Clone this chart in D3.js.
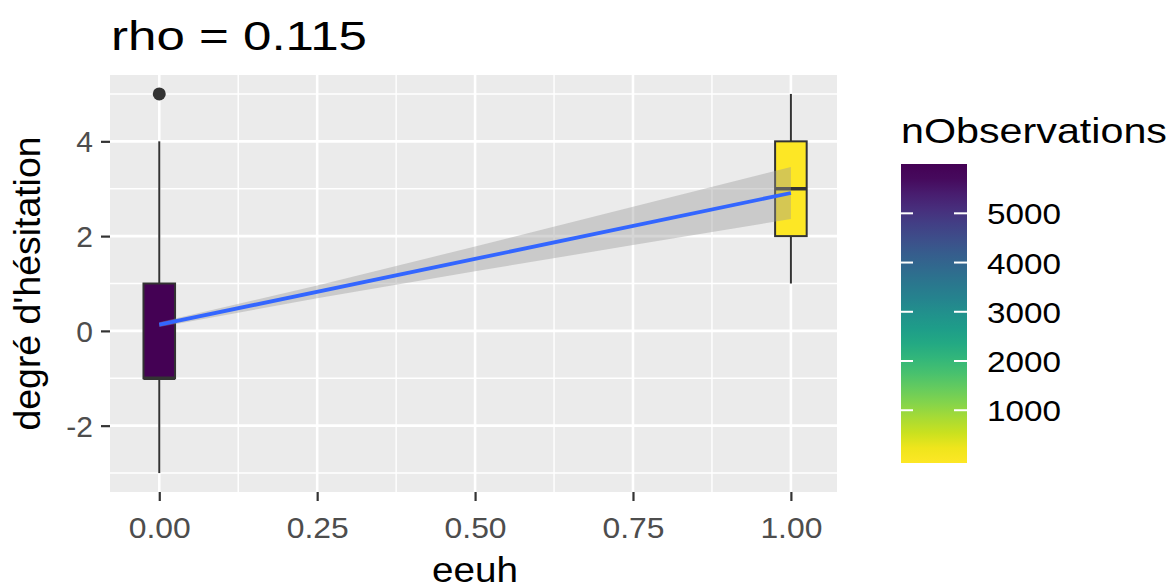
<!DOCTYPE html>
<html>
<head>
<meta charset="utf-8">
<script src="https://cdn.jsdelivr.net/npm/d3@7"></script>
<style>
  html, body { margin: 0; padding: 0; background: #ffffff; }
  svg { display: block; }
  text { font-family: "Liberation Sans", Arial, sans-serif; }
</style>
</head>
<body>
<div id="chart"></div>
<script>
// Hesitation score by eeuh group: boxplots filled by observation count,
// with a linear fit and its confidence band.
const groups      = [0, 1];
const groupN      = [5850, 80];            // observations per group
const boxQ1       = [-1, 2];
const boxMedian   = [-1, 3];
const boxQ3       = [1, 4];
const whiskerLow  = [-3, 1];
const whiskerHigh = [4, 5];
const outliers    = [{ x: 0, y: 5 }];

// linear fit and 95% band
const fitX   = [0, 1];
const fitY   = [0.13, 2.91];
const bandX  = [0, 0.25, 0.5, 0.75, 1];
const bandLo = [0.08, 0.69, 1.26, 1.81, 2.36];
const bandHi = [0.18, 0.96, 1.78, 2.62, 3.46];

const xTicks     = [0, 0.25, 0.5, 0.75, 1];
const xMinor     = [0.125, 0.375, 0.625, 0.875];
const yTicks     = [-2, 0, 2, 4];
const yMinor     = [-3, -1, 1, 3, 5];
const legendTicks = [1000, 2000, 3000, 4000, 5000];

const titleText  = "rho = 0.115";
const xTitle     = "eeuh";
const yTitle     = "degré d'hésitation";
const legendName = "nObservations";

const W = 1175, H = 588;
const panel = { left: 110, right: 837, top: 75, bottom: 492 };

const svg = d3.select("#chart").append("svg")
  .attr("width", W).attr("height", H);

const x = d3.scaleLinear().domain([-0.078, 1.073]).range([panel.left, panel.right]);
const y = d3.scaleLinear().domain([-3.4, 5.4]).range([panel.bottom, panel.top]);

const nExtent = d3.extent(groupN);
const color = d3.scaleSequential(t => d3.interpolateViridis(1 - t)).domain(nExtent);

// panel background
svg.append("rect")
  .attr("x", panel.left).attr("y", panel.top)
  .attr("width", panel.right - panel.left).attr("height", panel.bottom - panel.top)
  .attr("fill", "#EBEBEB");

const grid = svg.append("g");
grid.selectAll(".ymin").data(yMinor).join("line")
  .attr("x1", panel.left).attr("x2", panel.right)
  .attr("y1", d => y(d)).attr("y2", d => y(d))
  .attr("stroke", "#fff").attr("stroke-width", 1.4);
grid.selectAll(".xmin").data(xMinor).join("line")
  .attr("y1", panel.top).attr("y2", panel.bottom)
  .attr("x1", d => x(d)).attr("x2", d => x(d))
  .attr("stroke", "#fff").attr("stroke-width", 1.4);
grid.selectAll(".ymaj").data(yTicks).join("line")
  .attr("x1", panel.left).attr("x2", panel.right)
  .attr("y1", d => y(d)).attr("y2", d => y(d))
  .attr("stroke", "#fff").attr("stroke-width", 2.6);
grid.selectAll(".xmaj").data(xTicks).join("line")
  .attr("y1", panel.top).attr("y2", panel.bottom)
  .attr("x1", d => x(d)).attr("x2", d => x(d))
  .attr("stroke", "#fff").attr("stroke-width", 2.6);

// boxplots
const boxHalf = 0.025;
const boxes = svg.append("g");
groups.forEach((g, i) => {
  boxes.append("line")
    .attr("x1", x(g)).attr("x2", x(g))
    .attr("y1", y(boxQ3[i])).attr("y2", y(whiskerHigh[i]))
    .attr("stroke", "#333").attr("stroke-width", 2);
  boxes.append("line")
    .attr("x1", x(g)).attr("x2", x(g))
    .attr("y1", y(boxQ1[i])).attr("y2", y(whiskerLow[i]))
    .attr("stroke", "#333").attr("stroke-width", 2);
  boxes.append("rect")
    .attr("x", x(g - boxHalf)).attr("y", y(boxQ3[i]))
    .attr("width", x(g + boxHalf) - x(g - boxHalf))
    .attr("height", y(boxQ1[i]) - y(boxQ3[i]))
    .attr("fill", color(groupN[i]))
    .attr("stroke", "#333").attr("stroke-width", 2);
  boxes.append("line")
    .attr("x1", x(g - boxHalf)).attr("x2", x(g + boxHalf))
    .attr("y1", y(boxMedian[i])).attr("y2", y(boxMedian[i]))
    .attr("stroke", "#333").attr("stroke-width", 3.5);
});
boxes.selectAll(".out").data(outliers).join("circle")
  .attr("cx", d => x(d.x)).attr("cy", d => y(d.y)).attr("r", 6.5)
  .attr("fill", "#333");

// confidence band and fitted line
const band = bandX.map((v, i) => ({ x: v, lo: bandLo[i], hi: bandHi[i] }));
svg.append("path")
  .datum(band)
  .attr("d", d3.area().x(d => x(d.x)).y0(d => y(d.lo)).y1(d => y(d.hi)))
  .attr("fill", "#999999").attr("fill-opacity", 0.4);
svg.append("path")
  .datum(fitX.map((v, i) => ({ x: v, y: fitY[i] })))
  .attr("d", d3.line().x(d => x(d.x)).y(d => y(d.y)))
  .attr("fill", "none").attr("stroke", "#3366FF").attr("stroke-width", 3.8);

// axes
const xAxis = svg.append("g").attr("transform", `translate(0,${panel.bottom})`)
  .call(d3.axisBottom(x).tickValues(xTicks).tickFormat(d3.format(".2f")).tickSize(9).tickPadding(14));
const yAxis = svg.append("g").attr("transform", `translate(${panel.left},0)`)
  .call(d3.axisLeft(y).tickValues(yTicks).tickFormat(d => d).tickSize(9).tickPadding(8));
[xAxis, yAxis].forEach(a => {
  a.select(".domain").remove();
  a.selectAll(".tick line").attr("stroke", "#333").attr("stroke-width", 2.2);
  a.selectAll(".tick text").attr("fill", "#4D4D4D")
    .style("font-size", "30px").style("font-family", "'Liberation Sans', Arial, sans-serif");
});
xAxis.selectAll(".tick text").attr("dy", "0.71em").attr("y", 25)
  .attr("textLength", 62).attr("lengthAdjust", "spacingAndGlyphs");
yAxis.selectAll(".tick text").attr("dy", "0.35em");

// titles
svg.append("text")
  .attr("x", 111).attr("y", 50)
  .attr("font-size", 40).attr("fill", "#000")
  .attr("textLength", 256).attr("lengthAdjust", "spacingAndGlyphs")
  .text(titleText);

svg.append("text")
  .attr("x", (x(0) + x(1)) / 2).attr("y", 582)
  .attr("text-anchor", "middle").attr("font-size", 35).attr("fill", "#000")
  .attr("textLength", 86).attr("lengthAdjust", "spacingAndGlyphs")
  .text(xTitle);

svg.append("text")
  .attr("transform", `translate(40,${(panel.top + panel.bottom) / 2}) rotate(-90)`)
  .attr("text-anchor", "middle").attr("font-size", 37).attr("fill", "#000")
  .attr("textLength", 294).attr("lengthAdjust", "spacingAndGlyphs")
  .text(yTitle);

// colour bar legend
const bar = { x: 901, y: 164, w: 66, h: 299 };
const bins = 20;
const binH = bar.h / bins;
const legendY = d3.scaleLinear().domain(nExtent)
  .range([bar.y + bar.h - binH / 2, bar.y + binH / 2]);

const defs = svg.append("defs");
const grad = defs.append("linearGradient").attr("id", "nobs-grad")
  .attr("x1", 0).attr("y1", 1).attr("x2", 0).attr("y2", 0);
d3.range(0, 1.0001, 0.05).forEach(t => {
  const v = legendY.invert(bar.y + bar.h - t * bar.h);
  const c = Math.max(nExtent[0], Math.min(nExtent[1], v));
  grad.append("stop").attr("offset", t).attr("stop-color", color(c));
});

svg.append("text")
  .attr("x", 901).attr("y", 143)
  .attr("font-size", 35).attr("fill", "#000")
  .attr("textLength", 266).attr("lengthAdjust", "spacingAndGlyphs")
  .text(legendName);

svg.append("rect")
  .attr("x", bar.x).attr("y", bar.y).attr("width", bar.w).attr("height", bar.h)
  .attr("fill", "url(#nobs-grad)");

const lt = svg.append("g");
lt.selectAll(".tl").data(legendTicks).join("line")
  .attr("x1", bar.x).attr("x2", bar.x + 12)
  .attr("y1", d => legendY(d)).attr("y2", d => legendY(d))
  .attr("stroke", "#fff").attr("stroke-width", 2);
lt.selectAll(".tr").data(legendTicks).join("line")
  .attr("x1", bar.x + bar.w - 13).attr("x2", bar.x + bar.w)
  .attr("y1", d => legendY(d)).attr("y2", d => legendY(d))
  .attr("stroke", "#fff").attr("stroke-width", 2);
lt.selectAll(".lab").data(legendTicks).join("text")
  .attr("x", 987).attr("y", d => legendY(d) + 11)
  .attr("font-size", 30).attr("fill", "#000")
  .attr("textLength", 74).attr("lengthAdjust", "spacingAndGlyphs")
  .text(d => d);
</script>
</body>
</html>
